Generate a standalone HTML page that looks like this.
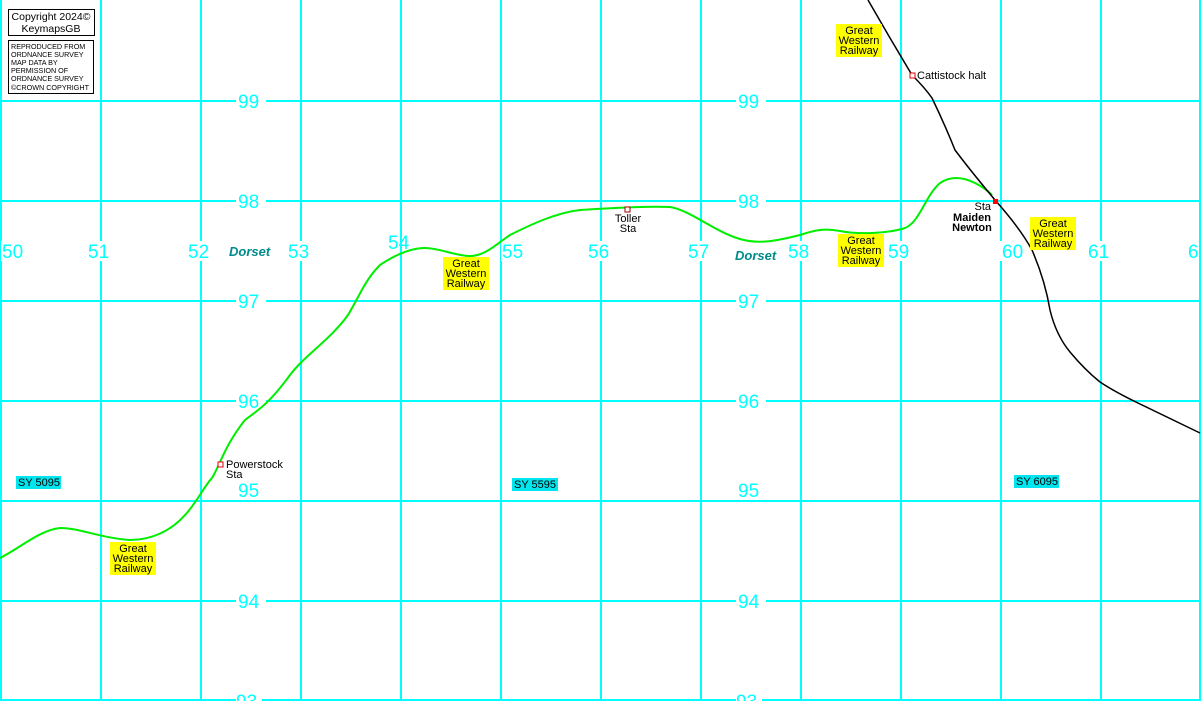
<!DOCTYPE html>
<html><head><meta charset="utf-8"><style>
html,body{margin:0;padding:0;background:#fff}
svg{display:block}
text{font-family:"Liberation Sans",Arial,sans-serif}
.n{fill:#00ffff;font-size:19px}
.lab{font-size:11px;fill:#000}
</style></head><body>
<svg width="1201" height="701" viewBox="0 0 1201 701" xmlns="http://www.w3.org/2000/svg">
<rect width="1201" height="701" fill="#fff"/>
<g stroke="#00ffff" stroke-width="2" shape-rendering="crispEdges">
<line x1="1" y1="0" x2="1" y2="701"/><line x1="101" y1="0" x2="101" y2="701"/><line x1="201" y1="0" x2="201" y2="701"/><line x1="301" y1="0" x2="301" y2="701"/><line x1="401" y1="0" x2="401" y2="701"/><line x1="501" y1="0" x2="501" y2="701"/><line x1="601" y1="0" x2="601" y2="701"/><line x1="701" y1="0" x2="701" y2="701"/><line x1="801" y1="0" x2="801" y2="701"/><line x1="901" y1="0" x2="901" y2="701"/><line x1="1001" y1="0" x2="1001" y2="701"/><line x1="1101" y1="0" x2="1101" y2="701"/><line x1="1200" y1="0" x2="1200" y2="701"/>
<line x1="0" y1="101" x2="1201" y2="101"/><line x1="0" y1="201" x2="1201" y2="201"/><line x1="0" y1="301" x2="1201" y2="301"/><line x1="0" y1="401" x2="1201" y2="401"/><line x1="0" y1="501" x2="1201" y2="501"/><line x1="0" y1="601" x2="1201" y2="601"/><line x1="0" y1="700" x2="1201" y2="700"/>
</g>
<g fill="#fff">
<rect x="236" y="91" width="30" height="20"/><rect x="736" y="91" width="30" height="20"/>
<rect x="236" y="191" width="30" height="20"/><rect x="736" y="191" width="30" height="20"/>
<rect x="236" y="291" width="30" height="20"/><rect x="736" y="291" width="30" height="20"/>
<rect x="236" y="391" width="30" height="20"/><rect x="736" y="391" width="30" height="20"/>
<rect x="236" y="481" width="30" height="19"/><rect x="736" y="481" width="30" height="19"/>
<rect x="236" y="591" width="30" height="20"/><rect x="736" y="591" width="30" height="20"/>
<rect x="236" y="692" width="26" height="9"/><rect x="736" y="692" width="26" height="9"/>
<rect x="86" y="241" width="28" height="20"/><rect x="186" y="241" width="28" height="20"/><rect x="286" y="241" width="28" height="20"/><rect x="586" y="241" width="28" height="20"/><rect x="686" y="241" width="28" height="20"/><rect x="786" y="241" width="28" height="20"/><rect x="886" y="241" width="28" height="20"/><rect x="1000" y="241" width="28" height="20"/><rect x="1086" y="241" width="28" height="20"/><rect x="1" y="241" width="25" height="20"/><rect x="501" y="241" width="26" height="20"/>
</g>
<g class="n">
<text x="238" y="108">99</text><text x="738" y="108">99</text>
<text x="238" y="208">98</text><text x="738" y="208">98</text>
<text x="238" y="308">97</text><text x="738" y="308">97</text>
<text x="238" y="408">96</text><text x="738" y="408">96</text>
<text x="238" y="497">95</text><text x="738" y="497">95</text>
<text x="238" y="608">94</text><text x="738" y="608">94</text>
<text x="236" y="708">93</text><text x="736" y="708">93</text>
<text x="2" y="258">50</text><text x="88" y="258">51</text><text x="188" y="258">52</text><text x="288" y="258">53</text><text x="388" y="249">54</text><text x="502" y="258">55</text><text x="588" y="258">56</text><text x="688" y="258">57</text><text x="788" y="258">58</text><text x="888" y="258">59</text><text x="1002" y="258">60</text><text x="1088" y="258">61</text><text x="1188" y="258">6</text>
</g>
<text x="229" y="256" font-size="13" font-weight="bold" font-style="italic" fill="#008b8b">Dorset</text>
<text x="735" y="260" font-size="13" font-weight="bold" font-style="italic" fill="#008b8b">Dorset</text>
<path d="M0,558 C20,548 40,530 60,528 C80,528 100,538 130,540 C150,540 170,532 185,515 C195,505 205,485 212,478 C220,465 225,445 245,420 C258,410 268,405 290,375 C305,355 330,340 348,315 C360,295 365,280 380,265 C395,255 410,248 425,248 C440,248 455,256 470,256 C485,256 495,245 510,235 C530,225 555,213 580,210 C610,208 650,206 670,207 C690,210 715,232 740,239 C760,245 780,240 800,235 C815,230 825,228 840,231 C860,235 890,233 905,228 C920,222 925,196 940,183 C952,175 965,178 975,183 C985,188 990,193 992,195" fill="none" stroke="#00ee00" stroke-width="2"/>
<path d="M868,0 L890,38 L912,75 Q925,88 932,98 Q945,125 955,150 Q970,170 995,200 Q1020,228 1032,250 Q1045,280 1050,310 Q1056,335 1070,352 Q1085,370 1100,382 Q1115,392 1140,404 L1200,433" fill="none" stroke="#000" stroke-width="1.5"/>
<rect x="218" y="462" width="5" height="5" fill="#fff" stroke="#e00000" stroke-width="1"/>
<text x="226" y="468" class="lab">Powerstock</text><text x="226" y="478" class="lab">Sta</text>
<rect x="625" y="207" width="5" height="5" fill="#fff" stroke="#a00000" stroke-width="1"/>
<text x="628" y="222" class="lab" text-anchor="middle">Toller</text><text x="628" y="232" class="lab" text-anchor="middle">Sta</text>
<rect x="910" y="73" width="5" height="5" fill="#fff" stroke="#e00000" stroke-width="1"/>
<text x="917" y="79" class="lab">Cattistock halt</text>
<rect x="993" y="199" width="5" height="5" fill="#ff0000"/>
<text x="991" y="210" class="lab" text-anchor="end">Sta</text>
<text x="972" y="221" font-size="11" font-weight="bold" text-anchor="middle">Maiden</text>
<text x="972" y="231" font-size="11" font-weight="bold" text-anchor="middle">Newton</text>
<g font-size="11" text-anchor="middle">
<rect x="836" y="24" width="46" height="33" fill="#ffff00"/><text x="859" y="34">Great</text><text x="859" y="44">Western</text><text x="859" y="54">Railway</text>
<rect x="443" y="257" width="46" height="33" fill="#ffff00"/><text x="466" y="267">Great</text><text x="466" y="277">Western</text><text x="466" y="287">Railway</text>
<rect x="838" y="234" width="46" height="33" fill="#ffff00"/><text x="861" y="244">Great</text><text x="861" y="254">Western</text><text x="861" y="264">Railway</text>
<rect x="1030" y="217" width="46" height="33" fill="#ffff00"/><text x="1053" y="227">Great</text><text x="1053" y="237">Western</text><text x="1053" y="247">Railway</text>
<rect x="110" y="542" width="46" height="33" fill="#ffff00"/><text x="133" y="552">Great</text><text x="133" y="562">Western</text><text x="133" y="572">Railway</text>
</g>
<g font-size="11">
<rect x="16" y="476" width="45" height="13" fill="#00e5ee"/><text x="18" y="486">SY 5095</text>
<rect x="512" y="478" width="46" height="13" fill="#00e5ee"/><text x="514" y="488">SY 5595</text>
<rect x="1014" y="475" width="45" height="13" fill="#00e5ee"/><text x="1016" y="485">SY 6095</text>
</g>
<rect x="8.5" y="9.5" width="86" height="26" fill="#fff" stroke="#000"/>
<text x="51" y="20" font-size="10.5" text-anchor="middle">Copyright 2024©</text>
<text x="51" y="32" font-size="10.5" text-anchor="middle">KeymapsGB</text>
<rect x="8.5" y="40.5" width="85" height="53" fill="#fff" stroke="#000"/>
<g font-size="7.2"><text x="11" y="49">REPRODUCED FROM</text><text x="11" y="57">ORDNANCE SURVEY</text><text x="11" y="65">MAP DATA BY</text><text x="11" y="73">PERMISSION OF</text><text x="11" y="81">ORDNANCE SURVEY</text><text x="11" y="90">©CROWN COPYRIGHT</text></g>
</svg>
</body></html>
